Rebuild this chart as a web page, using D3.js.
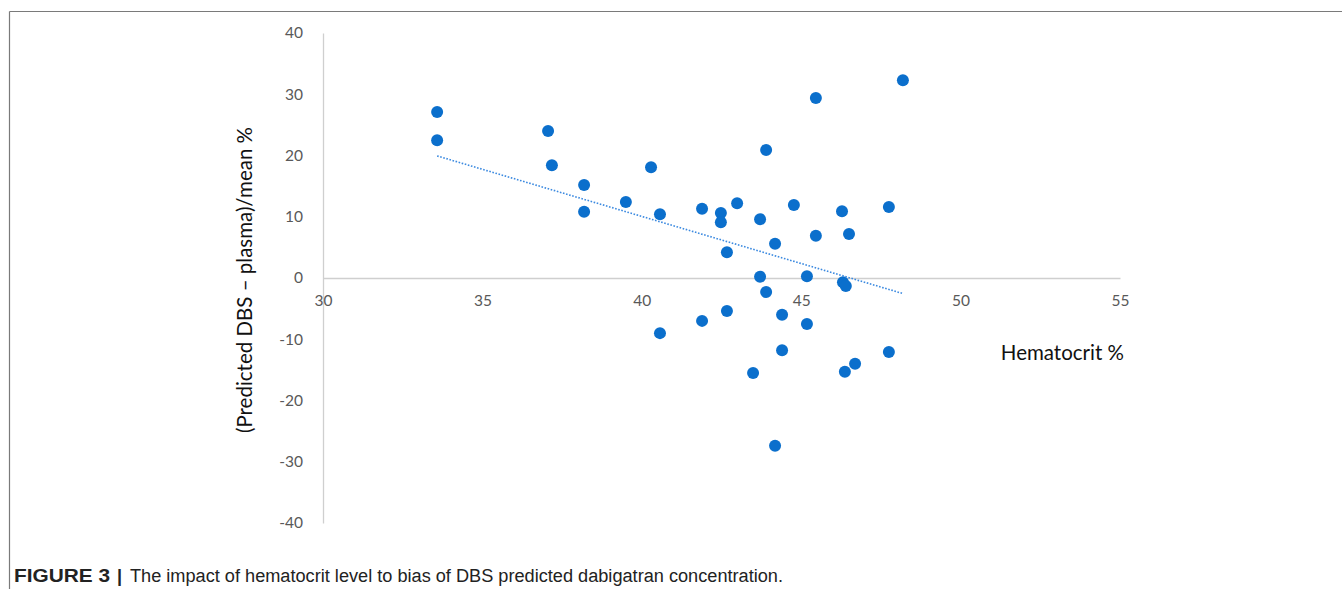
<!DOCTYPE html>
<html>
<head>
<meta charset="utf-8">
<script src="https://cdn.jsdelivr.net/npm/d3@7"></script>
<style>
  html, body { margin: 0; padding: 0; background: #fff; }
  svg { display: block; }
</style>
</head>
<body>
<svg id="chart" width="1342" height="589"></svg>
<script>
// ---- data ----
const hematocrit = [33.58, 33.58, 37.06, 37.18, 38.19, 38.19, 39.5, 40.29, 40.57, 41.89,
                    42.48, 42.48, 42.99, 42.67, 43.71, 43.9, 44.77, 44.18, 45.46, 45.46,
                    46.28, 46.5, 47.75, 48.19, 43.71, 45.18, 46.31, 46.4, 43.9, 40.57,
                    41.89, 42.67, 44.4, 45.18, 44.4, 43.49, 46.37, 46.69, 47.75, 44.18];
const bias       = [27.1, 22.5, 24.0, 18.4, 15.2, 10.8, 12.4, 18.1, 10.4, 11.3,
                    10.6, 9.1, 12.2, 4.2, 9.6, 20.9, 11.9, 5.6, 29.4, 6.9,
                    10.9, 7.2, 11.6, 32.3, 0.2, 0.3, -0.7, -1.3, -2.3, -9.0,
                    -7.0, -5.4, -6.0, -7.5, -11.8, -15.5, -15.3, -14.0, -12.1, -27.4];
const xTicks = [30, 35, 40, 45, 50, 55];
const yTicks = [40, 30, 20, 10, 0, -10, -20, -30, -40];
const xTitle = "Hematocrit %";
const yTitle = "(Predicted DBS \u2013 plasma)/mean %";
const captionBold = "FIGURE 3";
const captionText = "The impact of hematocrit level to bias of DBS predicted dabigatran concentration.";

const svg = d3.select("#chart");

// frame lines
svg.append("line").attr("x1", 9.5).attr("x2", 1342).attr("y1", 11.5).attr("y2", 11.5)
  .attr("stroke", "#7a7a7a").attr("stroke-width", 1.2);
svg.append("line").attr("x1", 9.5).attr("x2", 9.5).attr("y1", 11.5).attr("y2", 589)
  .attr("stroke", "#7a7a7a").attr("stroke-width", 1.2);

const x = d3.scaleLinear().domain([30, 55]).range([323, 1120]);
const y = d3.scaleLinear().domain([-40, 40]).range([523, 33]);

const tickFont = "Lato, 'Open Sans', sans-serif";
const fmt = d => String(d);

// y axis
const yAxis = svg.append("g").attr("transform", `translate(${x(30)},0)`)
  .call(d3.axisLeft(y).tickValues(yTicks).tickSize(0).tickPadding(20).tickFormat(fmt));
yAxis.select(".domain").attr("stroke", "#cfcfcf").attr("stroke-width", 1.3);
yAxis.selectAll("text").attr("fill", "#595959").style("font-family", tickFont).style("font-size", "15.5px");

// x axis at y=0
const xAxis = svg.append("g").attr("transform", `translate(0,${y(0)})`)
  .call(d3.axisBottom(x).tickValues(xTicks).tickSize(0).tickPadding(17).tickFormat(fmt));
xAxis.select(".domain").attr("stroke", "#cfcfcf").attr("stroke-width", 1.3);
xAxis.selectAll("text").attr("fill", "#595959").style("font-family", tickFont).style("font-size", "15.5px");

// points
const pts = hematocrit.map((h, i) => ({x: h, y: bias[i]}));
svg.append("g").selectAll("circle").data(pts).join("circle")
  .attr("cx", d => x(d.x)).attr("cy", d => y(d.y)).attr("r", 6)
  .attr("fill", "#0b6fcc");

// linear trendline (least squares)
const mx = d3.mean(pts, d => d.x), my = d3.mean(pts, d => d.y);
const slope = d3.sum(pts, d => (d.x - mx) * (d.y - my)) / d3.sum(pts, d => (d.x - mx) ** 2);
const icpt = my - slope * mx;
const [x0, x1] = d3.extent(pts, d => d.x);
svg.append("line")
  .attr("x1", x(x0)).attr("y1", y(icpt + slope * x0))
  .attr("x2", x(x1)).attr("y2", y(icpt + slope * x1))
  .attr("stroke", "#3c8ae0").attr("stroke-width", 1.6).attr("stroke-dasharray", "1.6,1.6");

// axis titles
svg.append("text").attr("x", 1124).attr("y", 360).attr("text-anchor", "end")
  .style("font-family", tickFont).style("font-size", "20.5px").attr("fill", "#111")
  .text(xTitle);
svg.append("text").attr("transform", "translate(252,280) rotate(-90)").attr("text-anchor", "middle")
  .style("font-family", tickFont).style("font-size", "20.5px").attr("fill", "#111")
  .text(yTitle);

// caption
const cap = svg.append("text").attr("x", 14).attr("y", 582)
  .style("font-family", "'Liberation Sans', Arial, sans-serif")
  .style("font-size", "18px").attr("fill", "#222");
cap.append("tspan").style("font-weight", "bold").attr("textLength", 96).attr("lengthAdjust", "spacingAndGlyphs").text(captionBold);
cap.append("tspan").attr("x", 117).style("font-weight", "bold").text("|");
cap.append("tspan").attr("x", 130).attr("textLength", 653).attr("lengthAdjust", "spacingAndGlyphs").text(captionText);
</script>
</body>
</html>
